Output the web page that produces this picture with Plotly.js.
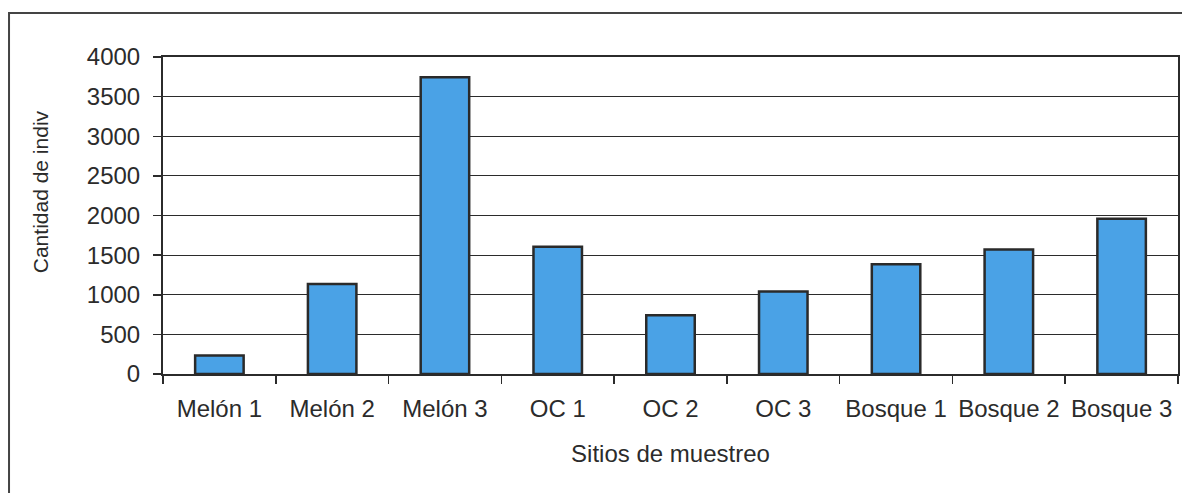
<!DOCTYPE html>
<html>
<head>
<meta charset="utf-8">
<script src="https://cdn.plot.ly/plotly-3.0.1.min.js"></script>
<style>
  html, body { margin: 0; padding: 0; background: #ffffff; }
  #chart { width: 1182px; height: 493px; }
</style>
</head>
<body>
<div id="chart"></div>
<script>
// Sampling sites and individual counts per site
const sitios = ['Melón 1', 'Melón 2', 'Melón 3', 'OC 1', 'OC 2', 'OC 3', 'Bosque 1', 'Bosque 2', 'Bosque 3'];
const individuos = [235, 1135, 3745, 1605, 740, 1040, 1385, 1570, 1960];
const yTicks = [0, 500, 1000, 1500, 2000, 2500, 3000, 3500, 4000];

const ink = '#2b2b2b';
const family = '"Liberation Sans", Arial, sans-serif';
const font = { family: family, size: 24, color: ink };

const trace = {
  type: 'bar',
  x: sitios,
  y: individuos,
  marker: { color: '#4aa2e6', line: { color: '#2a2a2a', width: 2.5 } },
  hoverinfo: 'x+y'
};

const layout = {
  width: 1182,
  height: 493,
  margin: { l: 163, r: 4, t: 57, b: 119, pad: 0 },
  paper_bgcolor: '#ffffff',
  plot_bgcolor: '#ffffff',
  font: font,
  bargap: 0.57,
  showlegend: false,
  xaxis: {
    type: 'category',
    showline: true, mirror: true, linecolor: ink, linewidth: 2,
    ticks: 'outside', tickson: 'boundaries', ticklen: 8, tickcolor: ink, tickwidth: 1.5,
    ticklabelstandoff: 12,
    showgrid: false, zeroline: false,
    tickfont: font,
    title: { text: 'Sitios de muestreo', font: font, standoff: 24 }
  },
  yaxis: {
    range: [0, 4000],
    tickvals: yTicks,
    ticktext: yTicks.map(String),
    showline: true, mirror: true, linecolor: ink, linewidth: 2,
    ticks: 'outside', ticklen: 8, tickcolor: ink, tickwidth: 1.5,
    ticklabelstandoff: 8,
    showgrid: true, gridcolor: ink, gridwidth: 1,
    zeroline: false,
    tickfont: font
  },
  annotations: [{
    text: 'Cantidad de indiv',
    textangle: -90,
    xref: 'paper', yref: 'paper',
    x: -0.121, y: 0.574,
    xanchor: 'center', yanchor: 'middle',
    showarrow: false,
    font: { family: family, size: 21, color: ink }
  }],
  shapes: [{
    // outer chart frame
    type: 'rect', xref: 'paper', yref: 'paper', layer: 'below',
    x0: -0.1517, x1: 1.02, y0: -0.47, y1: 1.1388,
    line: { color: '#444444', width: 2 }, fillcolor: 'rgba(0,0,0,0)'
  }]
};

Plotly.newPlot('chart', [trace], layout, { displayModeBar: false, staticPlot: true });
</script>
</body>
</html>
